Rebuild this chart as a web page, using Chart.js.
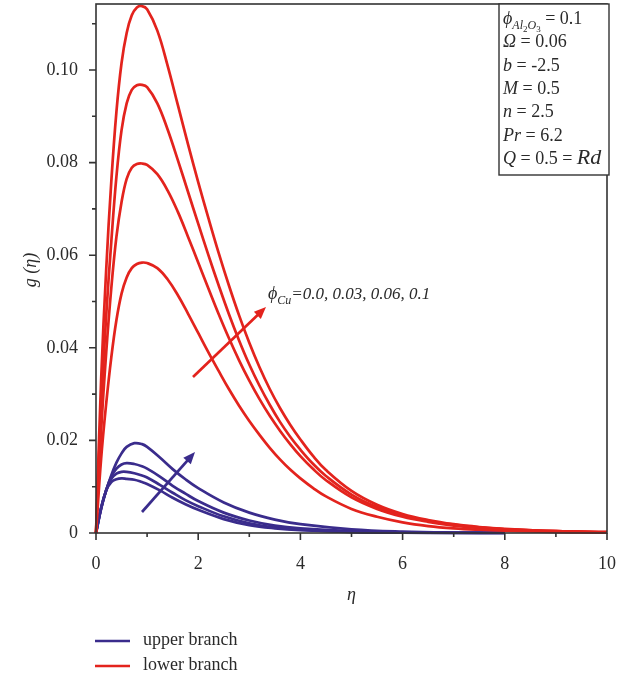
<!DOCTYPE html>
<html>
<head>
<meta charset="utf-8">
<script src="https://cdn.jsdelivr.net/npm/chart.js@4.4.1/dist/chart.umd.min.js"></script>
<style>
  html, body { margin: 0; padding: 0; background: #fff; }
  canvas { display: block; }
</style>
</head>
<body>
<canvas id="c" width="623" height="676"></canvas>
<script>
// eta grid for the lower-branch solutions
const etaLower = [0, 0.1, 0.2, 0.3, 0.4, 0.5, 0.6, 0.7, 0.8, 0.9, 1.0, 1.2, 1.4, 1.6, 1.8, 2.0,
  2.2, 2.4, 2.6, 2.8, 3.0, 3.2, 3.4, 3.6, 3.8, 4.0, 4.25, 4.5, 5.0, 5.5, 6.0, 6.5, 7.0, 7.5, 8.0, 9.0, 10.0];

// g(eta), lower branch, phi_Cu = 0.1, 0.06, 0.03, 0.0
const lowerPhi010 = [0, 0.033, 0.057, 0.076, 0.091, 0.1015, 0.108, 0.1118, 0.1135, 0.1138, 0.1131, 0.1085, 0.1010, 0.0925, 0.0840, 0.0758,
  0.0680, 0.0605, 0.0535, 0.0470, 0.0411, 0.0358, 0.0311, 0.0270, 0.0234, 0.0202, 0.0166, 0.0136, 0.0091, 0.0061, 0.0041, 0.0028, 0.0019, 0.0013, 0.0009, 0.0004, 0.0002];
const lowerPhi006 = [0, 0.027, 0.047, 0.063, 0.077, 0.087, 0.0928, 0.0957, 0.0967, 0.0968, 0.0963, 0.0928, 0.0872, 0.0806, 0.0737, 0.0668,
  0.0600, 0.0535, 0.0473, 0.0416, 0.0364, 0.0318, 0.0277, 0.0240, 0.0208, 0.0180, 0.0149, 0.0123, 0.0083, 0.0056, 0.0038, 0.0026, 0.0018, 0.0012, 0.0008, 0.0004, 0.0002];
const lowerPhi003 = [0, 0.022, 0.039, 0.053, 0.064, 0.0715, 0.0765, 0.0789, 0.0797, 0.0798, 0.0795, 0.0775, 0.0740, 0.0694, 0.0640, 0.0584,
  0.0528, 0.0473, 0.0421, 0.0373, 0.0329, 0.0289, 0.0253, 0.0221, 0.0192, 0.0166, 0.0138, 0.0114, 0.0077, 0.0052, 0.0035, 0.0024, 0.0016, 0.0011, 0.0008, 0.0004, 0.0002];
const lowerPhi000 = [0, 0.016, 0.028, 0.038, 0.046, 0.0517, 0.0552, 0.0572, 0.0581, 0.0584, 0.0583, 0.0572, 0.0548, 0.0514, 0.0474, 0.0432,
  0.0390, 0.0350, 0.0311, 0.0275, 0.0242, 0.0212, 0.0184, 0.0159, 0.0137, 0.0118, 0.0097, 0.0079, 0.0052, 0.0035, 0.0023, 0.0015, 0.0010, 0.0007, 0.0005, 0.0002, 0.0001];

// eta grid for the upper-branch solutions
const etaUpper = [0, 0.1, 0.2, 0.3, 0.4, 0.5, 0.6, 0.75, 0.9, 1.0, 1.25, 1.5, 1.75, 2.0, 2.5, 3.0, 3.5, 4.0, 5.0, 6.0, 7.0, 8.0];

// g(eta), upper branch, phi_Cu = 0.1, 0.06, 0.03, 0.0
const upperPhi010 = [0, 0.0052, 0.0092, 0.0125, 0.0152, 0.0172, 0.0186, 0.0194, 0.0192, 0.0186, 0.0163, 0.0138, 0.0116, 0.0097, 0.0066, 0.0044, 0.0029, 0.0019, 0.0008, 0.0003, 0.0001, 0.00005];
const upperPhi006 = [0, 0.0053, 0.0093, 0.0122, 0.0139, 0.0148, 0.0151, 0.0149, 0.0144, 0.0139, 0.0122, 0.0102, 0.0085, 0.0069, 0.0044, 0.0027, 0.0016, 0.0010, 0.0004, 0.00015, 0.00005, 0.00002];
const upperPhi003 = [0, 0.0054, 0.0093, 0.0117, 0.0128, 0.0132, 0.0132, 0.0129, 0.0124, 0.0120, 0.0104, 0.0087, 0.0071, 0.0058, 0.0036, 0.0021, 0.0012, 0.0007, 0.00025, 0.0001, 0.00003, 0.00001];
const upperPhi000 = [0, 0.0054, 0.0092, 0.0110, 0.0116, 0.0118, 0.0117, 0.0115, 0.0110, 0.0106, 0.0092, 0.0076, 0.0062, 0.0050, 0.0030, 0.0017, 0.0010, 0.0006, 0.0002, 0.00007, 0.00002, 0.00001];

// axis ticks
const xMajorTicks = [0, 2, 4, 6, 8, 10];
const xMinorTicks = [1, 3, 5, 7, 9];
const yMajorTicks = [0, 0.02, 0.04, 0.06, 0.08, 0.10];
const yMinorTicks = [0.01, 0.03, 0.05, 0.07, 0.09, 0.11];
const yTickLabels = ['0', '0.02', '0.04', '0.06', '0.08', '0.10'];
const xTickLabels = ['0', '2', '4', '6', '8', '10'];

// parameter list and legend text
const paramLines = [
  [['ϕ', 'i', 0], ['Al', 'is', 5], ['2', 'ss', 8], ['O', 'is', 5], ['3', 'ss', 8], [' = 0.1', 'r', 0]],
  [['Ω', 'i', 0], [' = 0.06', 'r', 0]],
  [['b', 'i', 0], [' = -2.5', 'r', 0]],
  [['M', 'i', 0], [' = 0.5', 'r', 0]],
  [['n', 'i', 0], [' = 2.5', 'r', 0]],
  [['Pr', 'i', 0], [' = 6.2', 'r', 0]],
  [['Q', 'i', 0], [' = 0.5 = ', 'r', 0], ['Rd', 'big', 0]]
];
const legendLabels = ['upper branch', 'lower branch'];
const phiLabel = '=0.0, 0.03, 0.06, 0.1';

const RED = '#e3231d';
const BLUE = '#3a2c8c';
const INK = '#2a2a2a';
const SERIF = '"Liberation Serif", "Times New Roman", serif';

const pts = (xs, ys) => xs.map((x, i) => ({ x: x, y: ys[i] }));
const lineDs = (xs, ys, color) => ({
  data: pts(xs, ys),
  borderColor: color,
  borderWidth: 2.7,
  pointRadius: 0,
  tension: 0.4,
  fill: false,
  clip: 4
});

const fonts = {
  r: '18px ' + SERIF,
  i: 'italic 18px ' + SERIF,
  is: 'italic 12px ' + SERIF,
  ss: '9px ' + SERIF,
  big: 'italic 22px ' + SERIF
};

function drawRuns(ctx, runs, x, y) {
  for (const [t, f, dy] of runs) {
    ctx.font = fonts[f];
    ctx.fillText(t, x, y + dy);
    x += ctx.measureText(t).width;
  }
  return x;
}

function arrow(ctx, x0, y0, x1, y1, color) {
  const a = Math.atan2(y1 - y0, x1 - x0);
  const L = 12, W = 5;
  ctx.strokeStyle = color;
  ctx.fillStyle = color;
  ctx.lineWidth = 2.7;
  ctx.beginPath();
  ctx.moveTo(x0, y0);
  ctx.lineTo(x1 - L * 0.6 * Math.cos(a), y1 - L * 0.6 * Math.sin(a));
  ctx.stroke();
  ctx.beginPath();
  ctx.moveTo(x1, y1);
  ctx.lineTo(x1 - L * Math.cos(a) + W * Math.sin(a), y1 - L * Math.sin(a) - W * Math.cos(a));
  ctx.lineTo(x1 - L * Math.cos(a) - W * Math.sin(a), y1 - L * Math.sin(a) + W * Math.cos(a));
  ctx.closePath();
  ctx.fill();
}

// plot frame position on the canvas
const AREA = { left: 96, top: 4, right: 607, bottom: 533 };

const pinArea = {
  id: 'pinArea',
  afterLayout(chart) {
    const a = chart.chartArea;
    a.left = AREA.left; a.top = AREA.top; a.right = AREA.right; a.bottom = AREA.bottom;
    a.width = AREA.right - AREA.left; a.height = AREA.bottom - AREA.top;
    const xs = chart.scales.x, ys = chart.scales.y;
    xs.left = AREA.left; xs.right = AREA.right; xs.width = a.width;
    xs.top = AREA.bottom; xs.bottom = chart.height;
    ys.top = AREA.top; ys.bottom = AREA.bottom; ys.height = a.height;
    ys.left = 0; ys.right = AREA.left;
    xs.configure(); ys.configure();
  }
};

const decorations = {
  id: 'decorations',
  afterDraw(chart) {
    const ctx = chart.ctx;
    const a = chart.chartArea;
    const xs = chart.scales.x, ys = chart.scales.y;
    ctx.save();

    // frame
    ctx.strokeStyle = '#333';
    ctx.lineWidth = 1.6;
    ctx.strokeRect(a.left, a.top, a.right - a.left, a.bottom - a.top);

    // outward ticks
    ctx.lineWidth = 1.6;
    ctx.beginPath();
    for (const v of xMajorTicks) { const p = xs.getPixelForValue(v); ctx.moveTo(p, a.bottom); ctx.lineTo(p, a.bottom + 7); }
    for (const v of xMinorTicks) { const p = xs.getPixelForValue(v); ctx.moveTo(p, a.bottom); ctx.lineTo(p, a.bottom + 4); }
    for (const v of yMajorTicks) { const p = ys.getPixelForValue(v); ctx.moveTo(a.left, p); ctx.lineTo(a.left - 7, p); }
    for (const v of yMinorTicks) { const p = ys.getPixelForValue(v); ctx.moveTo(a.left, p); ctx.lineTo(a.left - 4, p); }
    ctx.stroke();

    ctx.fillStyle = INK;
    ctx.textBaseline = 'alphabetic';

    // axis titles
    ctx.font = 'italic 18px ' + SERIF;
    ctx.textAlign = 'center';
    ctx.fillText('η', (a.left + a.right) / 2, 600);
    ctx.save();
    ctx.translate(36, 270);
    ctx.rotate(-Math.PI / 2);
    ctx.fillText('g (η)', 0, 0);
    ctx.restore();

    // parameter box
    ctx.textAlign = 'left';
    ctx.fillStyle = '#fff';
    ctx.fillRect(499, a.top, 110, 171);
    ctx.strokeStyle = '#333';
    ctx.lineWidth = 1.4;
    ctx.strokeRect(499, a.top, 110, 171);
    ctx.fillStyle = INK;
    paramLines.forEach((runs, i) => drawRuns(ctx, runs, 503, 24 + i * 23.3));

    // phi_Cu annotation
    const w = drawRuns(ctx, [['ϕ', 'i', 0], ['Cu', 'is', 5]], 268, 299);
    ctx.font = 'italic 17px ' + SERIF;
    ctx.fillText(phiLabel, w, 299);

    // direction arrows
    arrow(ctx, 193, 377, 266, 307, RED);
    arrow(ctx, 142, 512, 195, 452, BLUE);

    // legend
    ctx.lineWidth = 2.6;
    [[BLUE, 641], [RED, 666]].forEach(([c, y], i) => {
      ctx.strokeStyle = c;
      ctx.beginPath(); ctx.moveTo(95, y); ctx.lineTo(130, y); ctx.stroke();
      ctx.fillStyle = INK;
      ctx.font = '18px ' + SERIF;
      ctx.fillText(legendLabels[i], 143, y + 4);
    });

    ctx.restore();
  }
};

new Chart(document.getElementById('c'), {
  type: 'line',
  data: {
    datasets: [
      lineDs(etaLower, lowerPhi000, RED),
      lineDs(etaLower, lowerPhi003, RED),
      lineDs(etaLower, lowerPhi006, RED),
      lineDs(etaLower, lowerPhi010, RED),
      lineDs(etaUpper, upperPhi000, BLUE),
      lineDs(etaUpper, upperPhi003, BLUE),
      lineDs(etaUpper, upperPhi006, BLUE),
      lineDs(etaUpper, upperPhi010, BLUE)
    ]
  },
  options: {
    responsive: false,
    animation: false,
    devicePixelRatio: 1,
    layout: { padding: { top: 4, right: 16, left: 0, bottom: 0 } },
    plugins: { legend: { display: false }, tooltip: { enabled: false } },
    scales: {
      x: {
        type: 'linear', min: 0, max: 10,
        grid: { display: false },
        border: { display: false },
        afterBuildTicks: s => { s.ticks = xMajorTicks.map(v => ({ value: v })); },
        afterFit: s => { s.height = 143; s.paddingLeft = 0; s.paddingRight = 0; },
        ticks: {
          padding: 12, color: INK, maxRotation: 0,
          font: { family: SERIF, size: 18 },
          callback: (v) => xTickLabels[xMajorTicks.indexOf(v)]
        }
      },
      y: {
        type: 'linear', min: 0, max: 0.11425,
        grid: { display: false },
        border: { display: false },
        afterBuildTicks: s => { s.ticks = yMajorTicks.map(v => ({ value: v })); },
        afterFit: s => { s.width = 96; s.paddingTop = 0; s.paddingBottom = 0; },
        ticks: {
          padding: 10, color: INK,
          font: { family: SERIF, size: 18 },
          callback: (v) => yTickLabels[yMajorTicks.findIndex(t => Math.abs(t - v) < 1e-9)]
        }
      }
    }
  },
  plugins: [pinArea, decorations]
});
</script>
</body>
</html>
